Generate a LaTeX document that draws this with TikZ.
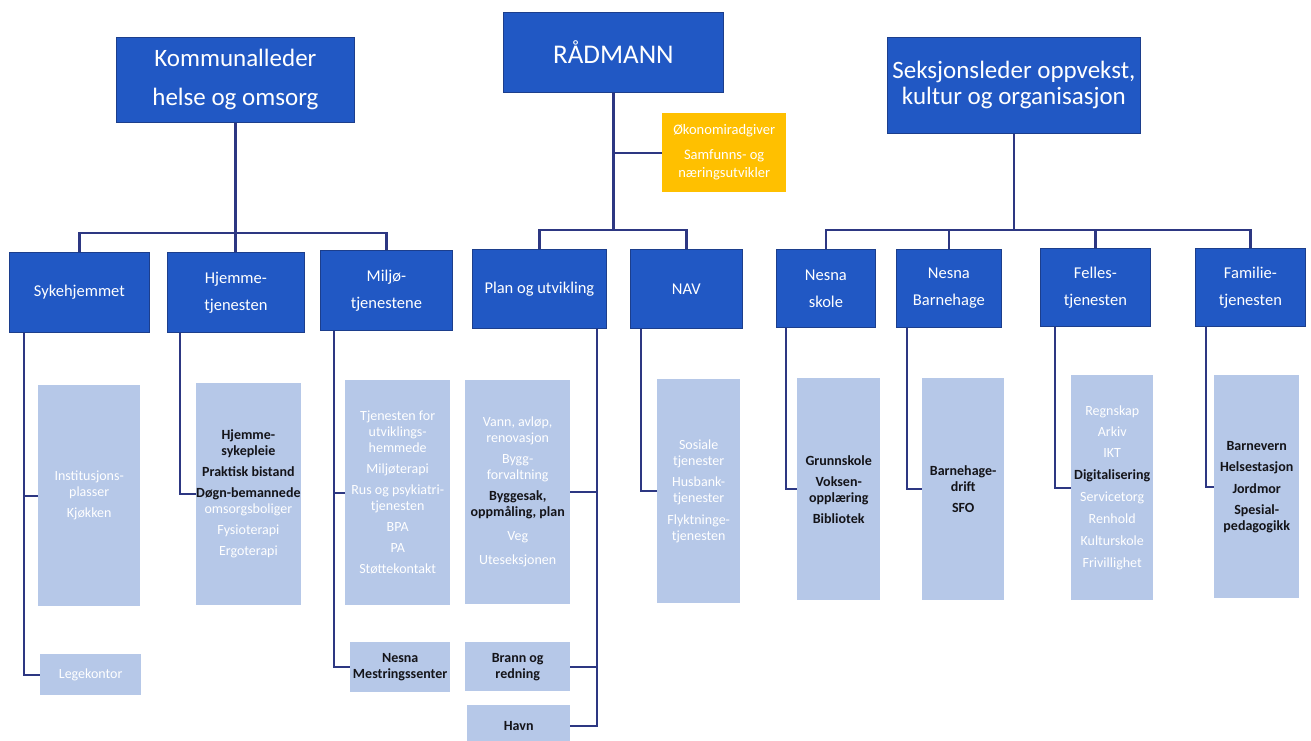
\documentclass[tikz,border=0pt]{standalone}
\usepackage{fontspec}
\setmainfont{Carlito}
\definecolor{dblue}{RGB}{33,88,196}
\definecolor{dborder}{RGB}{28,62,140}
\definecolor{lblue}{RGB}{182,200,232}
\definecolor{yel}{RGB}{255,192,0}
\definecolor{lncol}{RGB}{45,55,130}
\definecolor{txtdark}{RGB}{20,20,25}
\newcommand{\bx}[1]{{\color{txtdark}\bfseries #1}}
\tikzset{
 topbox/.style={fill=dblue,draw=dborder,line width=0.8pt,text=white,align=center,inner sep=0pt,anchor=north west},
 midbox/.style={fill=dblue,draw=dborder,line width=0.8pt,text=white,align=center,inner sep=0pt,anchor=north west,font=\fontsize{16.5}{27}\selectfont},
 subbox/.style={fill=lblue,draw=none,inner sep=0pt,anchor=north west,align=center,text=white,font=\fontsize{14}{16}\selectfont},
 yelbox/.style={fill=yel,draw=none,inner sep=0pt,anchor=north west,align=center,text=white,font=\fontsize{14.5}{18}\selectfont},
 link/.style={draw=lncol,line width=2.2pt}
}
\begin{document}
\begin{tikzpicture}[x=1pt,y=-1pt]
\useasboundingbox (0,0) rectangle (1311,741);
% top level
\node[topbox,minimum width=238,minimum height=85,font=\fontsize{25}{39}\selectfont] (kom) at (116,37) {Kommunalleder\\helse og omsorg};
\node[topbox,minimum width=220,minimum height=80,font=\fontsize{27}{32}\selectfont] (rad) at (503,12) {RÅDMANN};
\node[topbox,minimum width=253,minimum height=96,font=\fontsize{25}{26}\selectfont] (sek) at (887,37) {Seksjonsleder oppvekst,\\kultur og organisasjon};
\node[yelbox,minimum width=124,minimum height=79] (oko) at (662,113) {Økonomiradgiver\\[7pt]Samfunns- og\\næringsutvikler};
% second level
\node[midbox,minimum width=140,minimum height=80] (syk) at (9,252) {Sykehjemmet};
\node[midbox,minimum width=137,minimum height=80] (hje) at (167,252) {Hjemme-\\tjenesten};
\node[midbox,minimum width=132,minimum height=80] (mil) at (320,250) {Miljø-\\tjenestene};
\node[midbox,minimum width=134,minimum height=79] (pla) at (472,249) {Plan og utvikling};
\node[midbox,minimum width=112,minimum height=79] (nav) at (630,249) {NAV};
\node[midbox,minimum width=99,minimum height=78] (sko) at (776,249) {Nesna\\skole};
\node[midbox,minimum width=105,minimum height=78] (bar) at (896,249) {Nesna\\Barnehage};
\node[midbox,minimum width=110,minimum height=78] (fel) at (1040,248) {Felles-\\tjenesten};
\node[midbox,minimum width=110,minimum height=78] (fam) at (1195,248) {Familie-\\tjenesten};
% third level
\node[subbox,minimum width=102,minimum height=221] (sykA) at (38,385) {Institusjons-\\plasser\\[5pt]Kjøkken};
\node[subbox,minimum width=101,minimum height=41] (lege) at (40,654) {Legekontor};
\node[subbox,minimum width=102,minimum height=222] (hjeA) at (196,383) {\bx{Hjemme-}\\\bx{sykepleie}\\[5pt]\bx{Praktisk bistand}\\[5pt]\bx{Døgn-bemannede}\\omsorgsboliger\\[5pt]Fysioterapi\\[5pt]Ergoterapi};
\node[subbox,minimum width=105,minimum height=225] (milA) at (345,380) {Tjenesten for\\utviklings-\\hemmede\\[5pt]Miljøterapi\\[5pt]Rus og psykiatri-\\tjenesten\\[5pt]BPA\\[5pt]PA\\[5pt]Støttekontakt};
\node[subbox,minimum width=100,minimum height=50] (mes) at (350,642) {\bx{Nesna}\\\bx{Mestringssenter}};
\node[subbox,minimum width=105,minimum height=224] (plaA) at (465,380) {Vann, avløp,\\renovasjon\\[5pt]Bygg-\\forvaltning\\[5pt]\bx{Byggesak,}\\\bx{oppmåling, plan}\\[8pt]Veg\\[8pt]Uteseksjonen};
\node[subbox,minimum width=105,minimum height=49] (bra) at (465,642) {\bx{Brann og}\\\bx{redning}};
\node[subbox,minimum width=103,minimum height=42] (hav) at (467,705) {\bx{Havn}};
\node[subbox,minimum width=83,minimum height=224] (navA) at (657,379) {Sosiale\\tjenester\\[5pt]Husbank-\\tjenester\\[6pt]Flyktninge-\\tjenesten};
\node[subbox,minimum width=83,minimum height=222] (skoA) at (797,378) {\bx{Grunnskole}\\[5pt]\bx{Voksen-}\\\bx{opplæring}\\[5pt]\bx{Bibliotek}};
\node[subbox,minimum width=82,minimum height=222] (barA) at (922,378) {\bx{Barnehage-}\\\bx{drift}\\[5pt]\bx{SFO}};
\node[subbox,minimum width=82,minimum height=225] (felA) at (1071,375) {Regnskap\\[5pt]Arkiv\\[5pt]IKT\\[6pt]\bx{Digitalisering}\\[6pt]Servicetorg\\[6pt]Renhold\\[6pt]Kulturskole\\[6pt]Frivillighet};
\node[subbox,minimum width=85,minimum height=223] (famA) at (1214,375) {\bx{Barnevern}\\[5pt]\bx{Helsestasjon}\\[6pt]\bx{Jordmor}\\[5pt]\bx{Spesial-}\\\bx{pedagogikk}};
% connectors top
\coordinate (kb) at (kom.south |- 0,233);
\draw[link] (kom.south) -- (kb);
\draw[link] (syk.north) |- (kb) -| (mil.north);
\draw[link] (kb) -- (hje.north -| kb);
\coordinate (rb) at (rad.south |- 0,230);
\draw[link] (rad.south) -- (rb);
\draw[link] (pla.north) |- (rb) -| (nav.north);
\draw[link] (oko.west) -- (oko.west -| rad.south);
\coordinate (sb) at (sek.south |- 0,230);
\draw[link] (sek.south) -- (sb);
\draw[link] (sko.north) |- (sb) -| (fam.north);
\draw[link] (bar.north) -- (bar.north |- sb);
\draw[link] (fel.north) -- (fel.north |- sb);
% connectors bottom
\coordinate (sykv) at ([xshift=15pt]syk.south west);
\draw[link] (sykv) |- (lege.west);
\draw[link] (sykA.west) -- (sykA.west -| sykv);
\coordinate (hjev) at ([xshift=13pt]hje.south west);
\draw[link] (hjev) |- (hjeA.west);
\coordinate (milv) at ([xshift=14pt]mil.south west);
\draw[link] (milv) |- (mes.west);
\draw[link] (milA.west) -- (milA.west -| milv);
\coordinate (plav) at ([xshift=-10pt]pla.south east);
\draw[link] (plav) |- (hav.east);
\draw[link] (plaA.east) -- (plaA.east -| plav);
\draw[link] (bra.east) -- (bra.east -| plav);
\coordinate (navv) at ([xshift=11pt]nav.south west);
\draw[link] (navv) |- (navA.west);
\coordinate (skov) at ([xshift=10pt]sko.south west);
\draw[link] (skov) |- (skoA.west);
\coordinate (barv) at ([xshift=11pt]bar.south west);
\draw[link] (barv) |- (barA.west);
\coordinate (felv) at ([xshift=15pt]fel.south west);
\draw[link] (felv) |- (felA.west);
\coordinate (famv) at ([xshift=11pt]fam.south west);
\draw[link] (famv) |- (famA.west);
\end{tikzpicture}
\end{document}
